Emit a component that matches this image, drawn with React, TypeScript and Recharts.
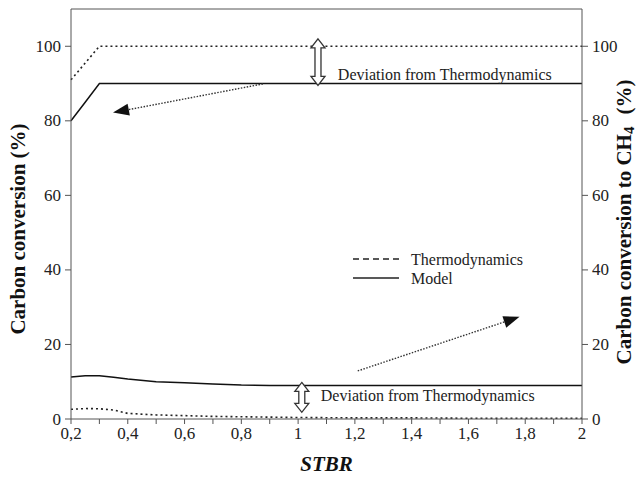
import React from 'react';
import {
  LineChart,
  Line,
  XAxis,
  YAxis,
  Legend,
  ReferenceLine,
  ReferenceDot,
} from 'recharts';

// STBR steps and the four curves
const stbr = [0.2, 0.25, 0.3, 0.35, 0.4, 0.5, 0.6, 0.7, 0.8, 0.9, 1.0, 1.2, 1.4, 1.6, 1.8, 2.0];
const thermoCarbon = [91, 95.5, 100, 100, 100, 100, 100, 100, 100, 100, 100, 100, 100, 100, 100, 100];
const modelCarbon = [80, 85, 90, 90, 90, 90, 90, 90, 90, 90, 90, 90, 90, 90, 90, 90];
const thermoCH4 = [2.6, 2.8, 2.75, 2.4, 1.5, 1.1, 0.9, 0.7, 0.6, 0.5, 0.4, 0.3, 0.3, 0.2, 0.2, 0.2];
const modelCH4 = [11.3, 11.6, 11.6, 11.2, 10.7, 10.0, 9.7, 9.4, 9.1, 9.0, 9.0, 9.0, 9.0, 9.0, 9.0, 9.0];

const xTicks = [0.2, 0.3, 0.4, 0.5, 0.6, 0.7, 0.8, 0.9, 1.0, 1.1, 1.2, 1.3, 1.4, 1.5, 1.6, 1.7, 1.8, 1.9, 2.0];
const yTicks = [0, 20, 40, 60, 80, 100];

const data = stbr.map((s, i) => ({
  stbr: s,
  thermoCarbon: thermoCarbon[i],
  modelCarbon: modelCarbon[i],
  thermoCH4: thermoCH4[i],
  modelCH4: modelCH4[i],
}));

const FONT = '"Liberation Serif", "Times New Roman", serif';
const AXIS = '#555';

const fmt = (v: number) => String(Math.round(v * 10) / 10).replace('.', ',');

function XTick({ x, y, payload }: any) {
  const v = payload.value;
  if (Math.round(v * 10) % 2 !== 0) return null;
  return (
    <text x={x} y={y + 13} textAnchor="middle" fontFamily={FONT} fontSize={17} fill="#222">
      {fmt(v)}
    </text>
  );
}

function LeftTick({ x, y, payload }: any) {
  return (
    <text x={x - 2} y={y} textAnchor="end" dominantBaseline="central" fontFamily={FONT} fontSize={17} fill="#222">
      {payload.value}
    </text>
  );
}

function RightTick({ x, y, payload }: any) {
  return (
    <text x={x + 2} y={y} textAnchor="start" dominantBaseline="central" fontFamily={FONT} fontSize={17} fill="#222">
      {payload.value}
    </text>
  );
}

function LeftTitle({ viewBox }: any) {
  const cx = viewBox.x + 18;
  const cy = 229;
  return (
    <text x={cx} y={cy} transform={`rotate(-90 ${cx} ${cy})`} textAnchor="middle" dominantBaseline="central"
      fontFamily={FONT} fontSize={21} fontWeight="bold" fill="#111">
      Carbon conversion (%)
    </text>
  );
}

function RightTitle({ viewBox }: any) {
  const cx = viewBox.x + 42;
  const cy = 222;
  return (
    <text x={cx} y={cy} transform={`rotate(-90 ${cx} ${cy})`} textAnchor="middle" dominantBaseline="central"
      fontFamily={FONT} fontSize={21} fontWeight="bold" fill="#111">
      Carbon conversion to CH<tspan fontSize={15} dy={5}>4</tspan>
      <tspan dy={-5} dx={12}>(%)</tspan>
    </text>
  );
}

function XTitle({ viewBox }: any) {
  const cx = viewBox.x + viewBox.width / 2;
  return (
    <text x={cx} y={464} textAnchor="middle" dominantBaseline="central" fontFamily={FONT}
      fontSize={21} fontWeight="bold" fontStyle="italic" fill="#111">
      STBR
    </text>
  );
}

// hollow double-headed arrow between the two segment ends
function DoubleArrow({ x1, y1, x2, y2 }: any) {
  const x = x1;
  const top = Math.min(y1, y2);
  const bot = Math.max(y1, y2);
  const hw = 7, sw = 3, hh = 9;
  const pts = [
    [x, top], [x + hw, top + hh], [x + sw, top + hh], [x + sw, bot - hh], [x + hw, bot - hh],
    [x, bot], [x - hw, bot - hh], [x - sw, bot - hh], [x - sw, top + hh], [x - hw, top + hh],
  ].map((p) => p.join(',')).join(' ');
  return <polygon points={pts} fill="#fff" stroke="#333" strokeWidth={1.3} />;
}

// dotted pointer ending in a filled triangle at (x2, y2)
function Pointer({ x1, y1, x2, y2 }: any) {
  const ang = Math.atan2(y2 - y1, x2 - x1);
  const len = 16, hw = 6;
  const bx = x2 - len * Math.cos(ang);
  const by = y2 - len * Math.sin(ang);
  const nx = -Math.sin(ang) * hw;
  const ny = Math.cos(ang) * hw;
  return (
    <g>
      <line x1={x1} y1={y1} x2={bx} y2={by} stroke="#333" strokeWidth={1.4} strokeDasharray="1.5 1.5" />
      <polygon points={`${x2},${y2} ${bx + nx},${by + ny} ${bx - nx},${by - ny}`} fill="#111" />
    </g>
  );
}

function NoteText({ cx, cy }: any) {
  return (
    <text x={cx} y={cy} dominantBaseline="central" fontFamily={FONT} fontSize={16} fill="#222">
      Deviation from Thermodynamics
    </text>
  );
}

function LegendBox() {
  return (
    <svg width={180} height={40} style={{ display: 'block' }}>
      <line x1={1} y1={10} x2={47} y2={10} stroke="#222" strokeWidth={1.4} strokeDasharray="6 4" />
      <text x={59} y={10} dominantBaseline="central" fontFamily={FONT} fontSize={16} fill="#222">Thermodynamics</text>
      <line x1={1} y1={29} x2={47} y2={29} stroke="#222" strokeWidth={1.4} />
      <text x={59} y={29} dominantBaseline="central" fontFamily={FONT} fontSize={16} fill="#222">Model</text>
    </svg>
  );
}

export default function App() {
  return (
    <div style={{ position: 'absolute', left: 0, top: 0, background: '#fff' }}>
      <LineChart width={639} height={479} data={data} margin={{ top: 9, right: 0, bottom: 0, left: 0 }}>
        <XAxis
          dataKey="stbr"
          type="number"
          domain={[0.2, 2]}
          ticks={xTicks}
          interval={0}
          height={60}
          stroke={AXIS}
          tickSize={5}
          tick={<XTick />}
          label={<XTitle />}
        />
        <YAxis
          yAxisId="left"
          domain={[0, 110]}
          ticks={yTicks}
          width={71}
          stroke={AXIS}
          tickSize={6}
          tick={<LeftTick />}
          label={<LeftTitle />}
        />
        <YAxis
          yAxisId="right"
          orientation="right"
          domain={[0, 110]}
          ticks={yTicks}
          width={57}
          stroke={AXIS}
          tickSize={6}
          tick={<RightTick />}
          label={<RightTitle />}
        />
        <ReferenceLine yAxisId="left" y={110} stroke={AXIS} />

        <Line yAxisId="left" dataKey="thermoCarbon" stroke="#222" strokeWidth={1.6} strokeDasharray="2 3" dot={false} isAnimationActive={false} />
        <Line yAxisId="left" dataKey="modelCarbon" stroke="#111" strokeWidth={1.5} dot={false} isAnimationActive={false} />
        <Line yAxisId="right" dataKey="thermoCH4" stroke="#222" strokeWidth={1.6} strokeDasharray="2 3" dot={false} isAnimationActive={false} />
        <Line yAxisId="right" dataKey="modelCH4" stroke="#111" strokeWidth={1.5} dot={false} isAnimationActive={false} />

        <ReferenceLine yAxisId="left" segment={[{ x: 1.07, y: 102 }, { x: 1.07, y: 89.5 }]} shape={(p: any) => <DoubleArrow {...p} />} />
        <ReferenceLine yAxisId="right" segment={[{ x: 1.013, y: 9.8 }, { x: 1.013, y: 1.8 }]} shape={(p: any) => <DoubleArrow {...p} />} />
        <ReferenceLine yAxisId="left" segment={[{ x: 0.876, y: 89.9 }, { x: 0.348, y: 82.2 }]} shape={(p: any) => <Pointer {...p} />} />
        <ReferenceLine yAxisId="right" segment={[{ x: 1.21, y: 12.9 }, { x: 1.78, y: 27.4 }]} shape={(p: any) => <Pointer {...p} />} />
        <ReferenceDot yAxisId="left" x={1.14} y={92.5} r={0} shape={(p: any) => <NoteText {...p} />} />
        <ReferenceDot yAxisId="right" x={1.08} y={6.2} r={0} shape={(p: any) => <NoteText {...p} />} />

        <Legend
          layout="horizontal"
          verticalAlign="middle"
          align="center"
          content={() => <LegendBox />}
          wrapperStyle={{ left: 352, top: 249, width: 180, height: 40 }}
        />
      </LineChart>
    </div>
  );
}
